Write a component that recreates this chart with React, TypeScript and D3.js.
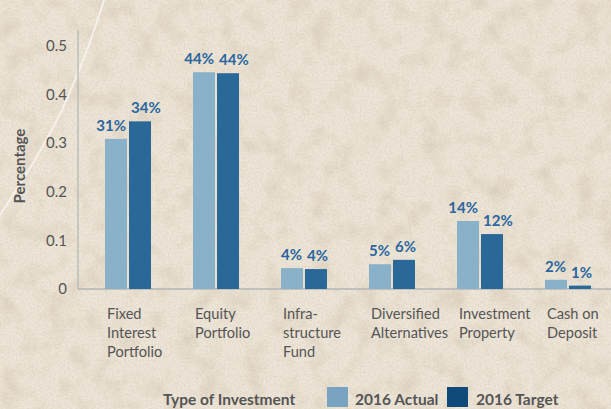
import React from "react";
import * as d3 from "d3";

const categories = [
  ["Fixed", "Interest", "Portfolio"],
  ["Equity", "Portfolio"],
  ["Infra-", "structure", "Fund"],
  ["Diversified", "Alternatives"],
  ["Investment", "Property"],
  ["Cash on", "Deposit"],
];
const categoryKeys = ["Fixed Interest Portfolio", "Equity Portfolio", "Infrastructure Fund", "Diversified Alternatives", "Investment Property", "Cash on Deposit"];
const actual = [0.309, 0.446, 0.043, 0.051, 0.14, 0.019];
const target = [0.345, 0.444, 0.041, 0.06, 0.113, 0.007];
const actualLabels = ["31%", "44%", "4%", "5%", "14%", "2%"];
const targetLabels = ["34%", "44%", "4%", "6%", "12%", "1%"];
const yTicks = [0, 0.1, 0.2, 0.3, 0.4, 0.5];
const seriesNames = ["2016 Actual", "2016 Target"];

const W = 611, H = 409;
const FONT = "Lato, 'Open Sans', sans-serif";

export default function App() {
  const x0 = d3.scaleBand<string>().domain(categoryKeys).range([84, 612]).paddingInner(0).paddingOuter(0);
  const y = d3.scaleLinear().domain([0, 0.5]).range([289, 46]);
  const bw = 22;
  const textCol = "#555555";
  const labelCol = "#2a679f";
  const actualCol = "#89b1ca";
  const targetCol = "#2a6897";

  return (
    <svg width={W} height={H} style={{ position: "fixed", left: 0, top: 0 }} fontFamily={FONT}>
      <defs>
        <filter id="tex" x="0" y="0" width="100%" height="100%">
          <feTurbulence type="fractalNoise" baseFrequency="0.045" numOctaves="4" seed="3" result="n" />
          <feColorMatrix type="matrix" values="0 0 0 0 0.62  0 0 0 0 0.52  0 0 0 0 0.4  0 0 0 2.0 -0.9" />
        </filter>
        <filter id="tex2" x="0" y="0" width="100%" height="100%">
          <feTurbulence type="fractalNoise" baseFrequency="0.5" numOctaves="2" seed="7" />
          <feColorMatrix type="matrix" values="0 0 0 0 0.55  0 0 0 0 0.47  0 0 0 0 0.37  0 0 0 1.2 -0.45" />
        </filter>
      </defs>
      <rect x={0} y={0} width={W} height={H} fill="#ede5d7" />
      <rect x={0} y={0} width={W} height={H} filter="url(#tex)" opacity={0.5} />
      <rect x={0} y={0} width={W} height={H} filter="url(#tex2)" opacity={0.5} />
      <path d="M104,0 C92,40 80,70 62,110 C45,145 20,185 0,215" stroke="#f8f5ef" strokeWidth={2} fill="none" opacity={0.85} />

      {/* axes */}
      <line x1={78} x2={78} y1={30} y2={289} stroke="#b4b4b4" strokeWidth={1.2} />
      <line x1={78} x2={611} y1={289} y2={289} stroke="#b4b4b4" strokeWidth={1.5} />

      {yTicks.map((t) => (
        <text key={t} x={67} y={y(t)} dy="0.35em" textAnchor="end" fontSize={15} fill={textCol}>
          {t === 0 ? "0" : d3.format(".1f")(t)}
        </text>
      ))}
      <text transform="translate(25,166) rotate(-90)" textAnchor="middle" fontSize={15} fontWeight={700} fill={textCol}>
        Percentage
      </text>

      {categoryKeys.map((k, i) => {
        const cx = (x0(k) as number) + x0.bandwidth() / 2;
        const xa = cx - bw - 1;
        const xt = cx + 1;
        return (
          <g key={k}>
            <rect x={xa} y={y(actual[i])} width={bw} height={y(0) - y(actual[i])} fill={actualCol} />
            <rect x={xt} y={y(target[i])} width={bw} height={y(0) - y(target[i])} fill={targetCol} />
            <text x={xa + bw - 1} y={y(actual[i]) - 8} textAnchor="end" fontSize={15} fontWeight={700} fill={labelCol}>
              {actualLabels[i]}
            </text>
            <text x={xt + 2} y={y(target[i]) - 8} textAnchor="start" fontSize={15} fontWeight={700} fill={labelCol}>
              {targetLabels[i]}
            </text>
            {categories[i].map((line, j) => (
              <text key={j} x={xa + 2} y={319 + j * 19} fontSize={14.6} fill={textCol}>
                {line}
              </text>
            ))}
          </g>
        );
      })}

      {/* legend */}
      <text x={163} y={405} fontSize={15.5} fontWeight={700} fill={textCol}>Type of Investment</text>
      <rect x={327} y={387} width={21} height={20} fill="#78a4c1" />
      <text x={355} y={405} fontSize={15.5} fontWeight={700} fill={textCol}>{seriesNames[0]}</text>
      <rect x={447} y={387} width={21} height={20} fill="#0f4a7b" />
      <text x={476} y={405} fontSize={15.5} fontWeight={700} fill={textCol}>{seriesNames[1]}</text>
    </svg>
  );
}
